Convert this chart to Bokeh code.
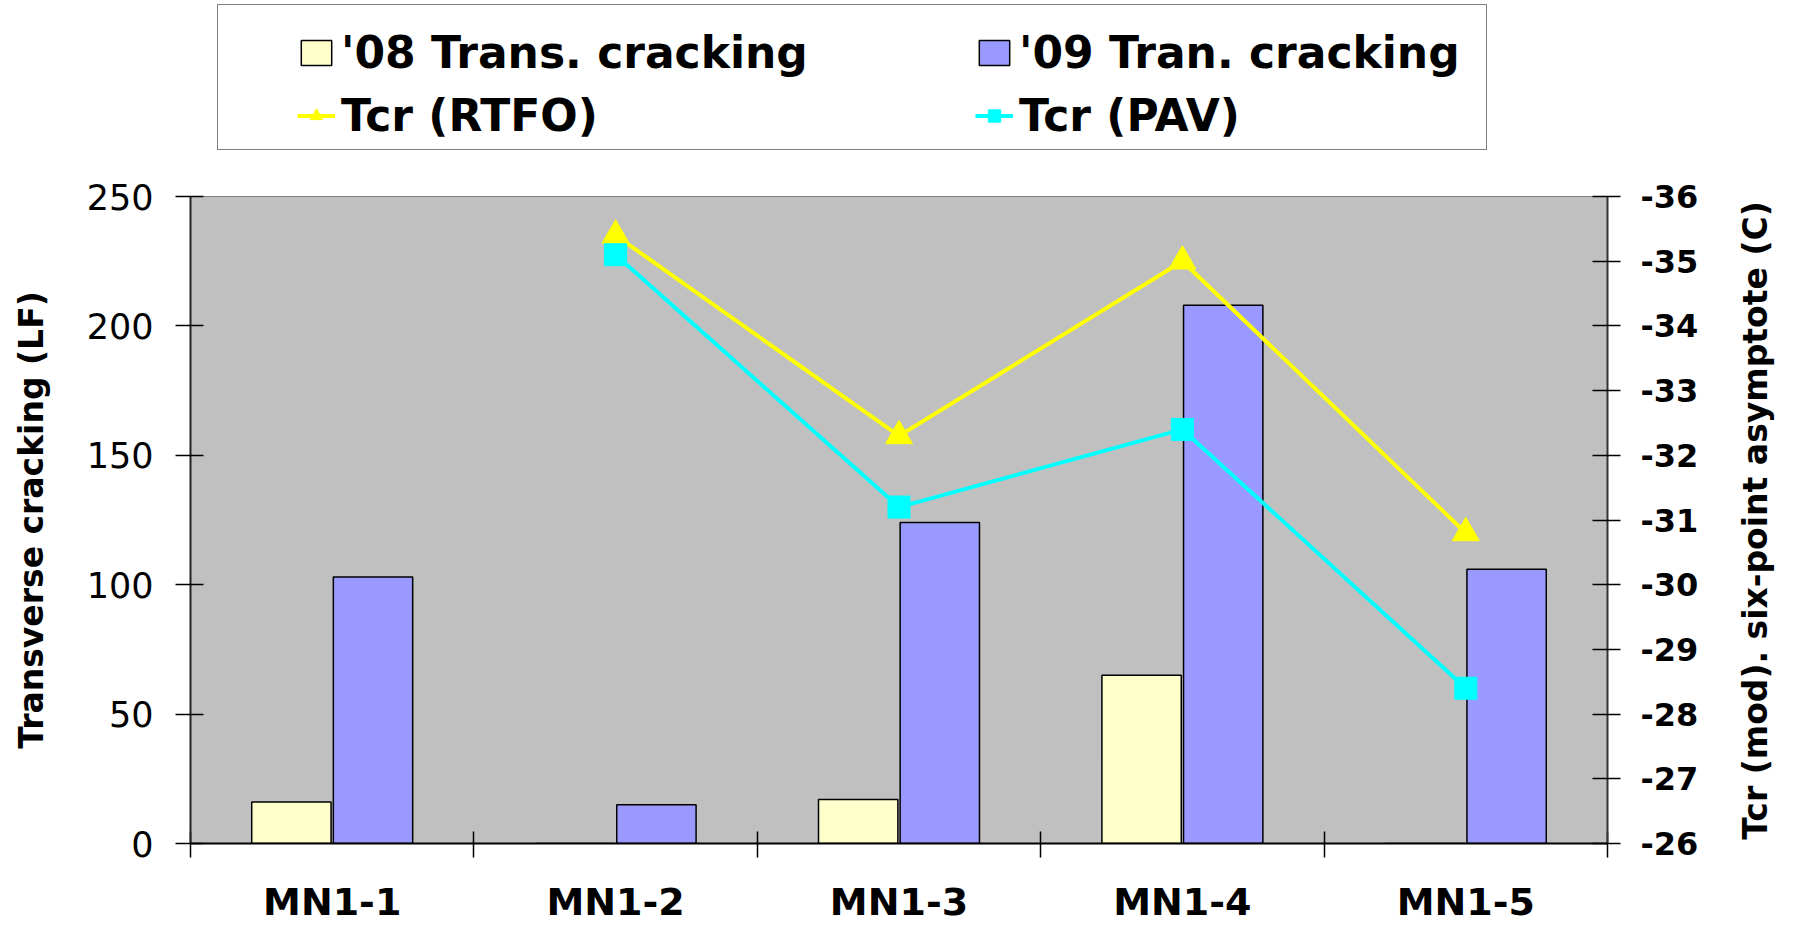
import numpy as np
from bokeh.plotting import figure
from bokeh.layouts import column, row
from bokeh.models import Range1d, LinearAxis, FixedTicker, Legend, LegendItem, Label
from bokeh.core.properties import value
from bokeh.embed import file_html
from bokeh.resources import INLINE

# ---- data ----
sites = ["MN1-1", "MN1-2", "MN1-3", "MN1-4", "MN1-5"]
crack_08 = [16, 0, 17, 65, 0]
crack_09 = [103, 15, 124, 208, 106]
tcr_rtfo = [np.nan, -35.4, -32.3, -35.0, -30.8]
tcr_pav = [np.nan, -35.1, -31.2, -32.4, -28.4]
left_ticks = [0, 50, 100, 150, 200, 250]
right_ticks = [-36, -35, -34, -33, -32, -31, -30, -29, -28, -27, -26]

# ---- styles ----
C08 = "#FFFFCC"
C09 = "#9999FF"
CRTFO = "#FFFF00"
CPAV = "#00FFFF"
FONT = "DejaVu Sans"

W_TOTAL = 1795
H_LEG = 160
H_MAIN = 766
W_TITLE = 85
W_MAIN = W_TOTAL - W_TITLE

centers = np.arange(len(sites)) + 0.5
x08 = centers - 0.144
x09 = centers + 0.144

# ================= main chart =================
p = figure(width=W_MAIN, height=H_MAIN, x_range=Range1d(0, len(sites)), y_range=Range1d(0, 250),
           output_backend="svg", toolbar_location=None,
           min_border_left=190, min_border_right=103, min_border_top=36, min_border_bottom=81,
           background_fill_color="#C0C0C0", border_fill_color="white",
           outline_line_color="#808080", outline_line_width=1)
p.grid.visible = False
p.extra_y_ranges = {"t": Range1d(start=-26, end=-36)}

p.vbar(x=x08, top=crack_08, width=0.28, fill_color=C08, line_color="black", line_width=1.5)
p.vbar(x=x09, top=crack_09, width=0.28, fill_color=C09, line_color="black", line_width=1.5)

p.line(centers, tcr_rtfo, y_range_name="t", line_color=CRTFO, line_width=4)
p.scatter(centers, tcr_rtfo, y_range_name="t", marker="triangle", size=27,
          fill_color=CRTFO, line_color=CRTFO)
p.line(centers, tcr_pav, y_range_name="t", line_color=CPAV, line_width=4)
p.scatter(centers, tcr_pav, y_range_name="t", marker="square", size=22,
          fill_color=CPAV, line_color=CPAV)

# x axis: labels at category centres, ticks at category boundaries
xa = p.xaxis[0]
xa.ticker = FixedTicker(ticks=list(centers), minor_ticks=list(range(len(sites) + 1)))
xa.major_label_overrides = {float(c): s for c, s in zip(centers, sites)}
xa.major_tick_line_color = None
xa.major_tick_in = 0
xa.major_tick_out = 0
xa.minor_tick_in = 12
xa.minor_tick_out = 14
xa.minor_tick_line_color = "black"
xa.minor_tick_line_width = 1.5
xa.axis_line_color = "black"
xa.axis_line_width = 2
xa.major_label_standoff = 22
xa.major_label_text_font = FONT
xa.major_label_text_font_style = "bold"
xa.major_label_text_font_size = "38px"
xa.major_label_text_color = "black"

# left axis
ya = p.yaxis[0]
ya.ticker = FixedTicker(ticks=left_ticks)
ya.major_tick_in = 13
ya.major_tick_out = 15
ya.major_tick_line_color = "black"
ya.major_tick_line_width = 1.5
ya.minor_tick_line_color = None
ya.axis_line_color = "#222222"
ya.axis_line_width = 2
ya.major_label_standoff = 22
ya.major_label_text_font = FONT
ya.major_label_text_font_size = "35px"
ya.major_label_text_color = "black"
ya.axis_label = "Transverse cracking (LF)"
ya.axis_label_standoff = 33
ya.axis_label_text_font = FONT
ya.axis_label_text_font_style = "bold"
ya.axis_label_text_font_size = "33px"
ya.axis_label_text_color = "black"

# right axis
ra = LinearAxis(y_range_name="t", ticker=FixedTicker(ticks=right_ticks))
ra.major_label_overrides = {t: str(t) for t in right_ticks}
ra.major_tick_in = 15
ra.major_tick_out = 13
ra.major_tick_line_color = "black"
ra.major_tick_line_width = 1.5
ra.minor_tick_line_color = None
ra.axis_line_color = "#333333"
ra.axis_line_width = 2
ra.major_label_standoff = 20
ra.major_label_text_font = FONT
ra.major_label_text_font_style = "bold"
ra.major_label_text_font_size = "32px"
ra.major_label_text_color = "black"
p.add_layout(ra, "right")

# ================= right-axis title strip (reads bottom-to-top) =================
pt = figure(width=W_TITLE, height=H_MAIN, x_range=Range1d(0, 1), y_range=Range1d(0, 1),
            output_backend="svg", toolbar_location=None,
            x_axis_location=None, y_axis_location=None,
            min_border=0, min_border_left=0, min_border_right=0, min_border_top=0, min_border_bottom=0,
            outline_line_color=None, background_fill_color="white", border_fill_color="white")
pt.grid.visible = False
pt.add_layout(Label(x=45, y=323, x_units="screen", y_units="screen",
                    text="Tcr (mod). six-point asymptote (C)", angle=np.pi / 2,
                    text_align="center", text_baseline="middle",
                    text_font=FONT, text_font_style="bold",
                    text_font_size="33px", text_color="black"))

# ================= legend strip =================
pl = figure(width=W_TOTAL, height=H_LEG, x_range=Range1d(0, 1), y_range=Range1d(0, 1),
            output_backend="svg", toolbar_location=None,
            x_axis_location=None, y_axis_location=None,
            min_border=0, min_border_left=0, min_border_right=0, min_border_top=0, min_border_bottom=0,
            outline_line_color=None, background_fill_color="white", border_fill_color="white")
pl.grid.visible = False

nan1 = [np.nan]
r08 = pl.vbar(x=nan1, top=nan1, width=0.28, fill_color=C08, line_color="black", line_width=1.5)
r09 = pl.vbar(x=nan1, top=nan1, width=0.28, fill_color=C09, line_color="black", line_width=1.5)
rl1 = pl.line(nan1, nan1, line_color=CRTFO, line_width=4)
rs1 = pl.scatter(nan1, nan1, marker="triangle", fill_color=CRTFO, line_color=CRTFO)
rl2 = pl.line(nan1, nan1, line_color=CPAV, line_width=4)
rs2 = pl.scatter(nan1, nan1, marker="square", fill_color=CPAV, line_color=CPAV)
dummy = pl.scatter(nan1, nan1, fill_alpha=0, line_alpha=0)

box = Legend(items=[LegendItem(label=value(""), renderers=[dummy])],
             location=(217, 10), padding=0, margin=0, spacing=0,
             glyph_width=1, glyph_height=1, label_standoff=0,
             label_width=1267, label_height=144,
             border_line_color="black", border_line_width=1.5,
             background_fill_color="white", background_fill_alpha=1.0)
pl.add_layout(box, "center")

common = dict(orientation="vertical", padding=0, margin=0, spacing=11,
              glyph_width=38, glyph_height=31, label_standoff=6, label_height=52,
              border_line_color=None, background_fill_alpha=0,
              label_text_font=FONT, label_text_font_style="bold",
              label_text_font_size="44px", label_text_color="black")
leg1 = Legend(items=[LegendItem(label="'08 Trans. cracking", renderers=[r08]),
                     LegendItem(label="Tcr (RTFO)", renderers=[rl1, rs1])],
              location=(297, 19), **common)
leg2 = Legend(items=[LegendItem(label="'09 Tran. cracking", renderers=[r09]),
                     LegendItem(label="Tcr (PAV)", renderers=[rl2, rs2])],
              location=(975, 19), **common)
pl.add_layout(leg1, "center")
pl.add_layout(leg2, "center")

layout = column(pl, row(p, pt, spacing=0), spacing=0)
open("out.html", "w").write(file_html(layout, INLINE))
